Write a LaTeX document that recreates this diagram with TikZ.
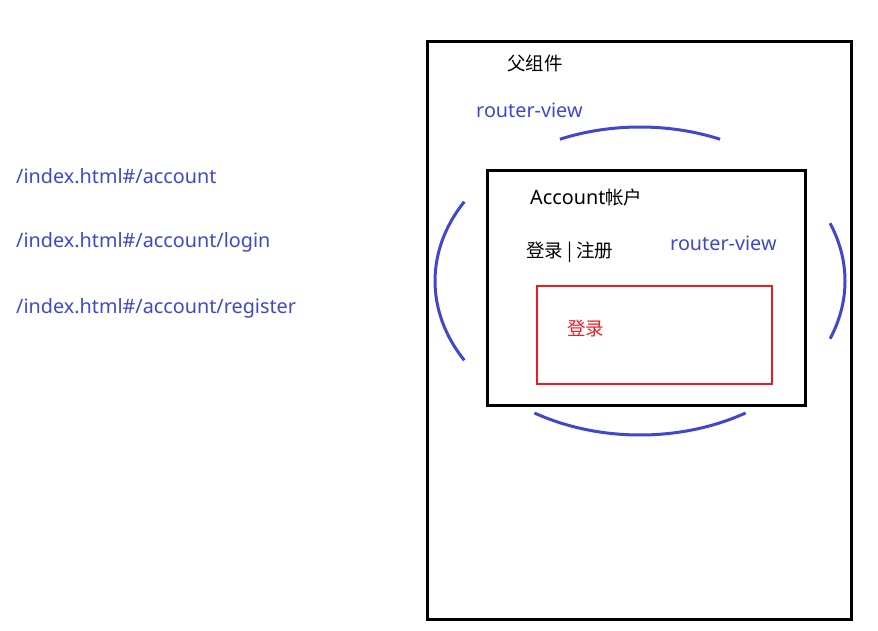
\documentclass[tikz,border=0pt]{standalone}
\usepackage{fontspec}
\newfontfamily\cjk{Noto Sans CJK SC}
\newfontfamily\lat[Scale=1.07]{Noto Sans}
\definecolor{viewblue}{HTML}{3F48CC}
\definecolor{loginred}{HTML}{ED1C24}

\begin{document}
\begin{tikzpicture}[x=1pt,y=1pt,
  txt/.style={font=\cjk\fontsize{18.5}{22}\selectfont, inner sep=0pt, anchor=west},
  urltxt/.style={txt, font=\lat\fontsize{18.5}{22}\selectfont, text=viewblue},
  box/.style={draw, line width=3pt},
  ring/.style={draw=viewblue, line width=3pt}]
\useasboundingbox (0,0) rectangle (878,-631);

% routes on the left
\node[urltxt] (acc) at (16,-176) {/index.html\#/account};
\node[urltxt] (login) at (16,-242) {/index.html\#/account/login};
\node[urltxt] (reg) at (16,-308) {/index.html\#/account/register};

% parent component
\draw[box] (427,-42) rectangle (851,-619);
\node[txt] (parent) at (507,-63) {父组件};
\node[urltxt] (view1) at (476,-110) {router-view};

% outer router-view ring
\foreach \a/\b in {67/113, 149/211, 239/301, -22/22}
  \draw[ring] (640,-281) ++(\a:205 and 154) arc[start angle=\a, end angle=\b, x radius=205, y radius=154];

% account component
\draw[box] (487,-171) rectangle (805,-405);
\node[txt] (account) at (530,-197) {{\lat Account}帐户};
\node[txt] (links) at (526,-252) {登录 | 注册};
\node[urltxt] (view2) at (670,-243) {router-view};

% login view
\draw[draw=loginred, line width=2.8pt] (537,-286) rectangle (772,-384);
\node[txt, text=loginred] (logintxt) at (567,-329) {登录};
\end{tikzpicture}
\end{document}
